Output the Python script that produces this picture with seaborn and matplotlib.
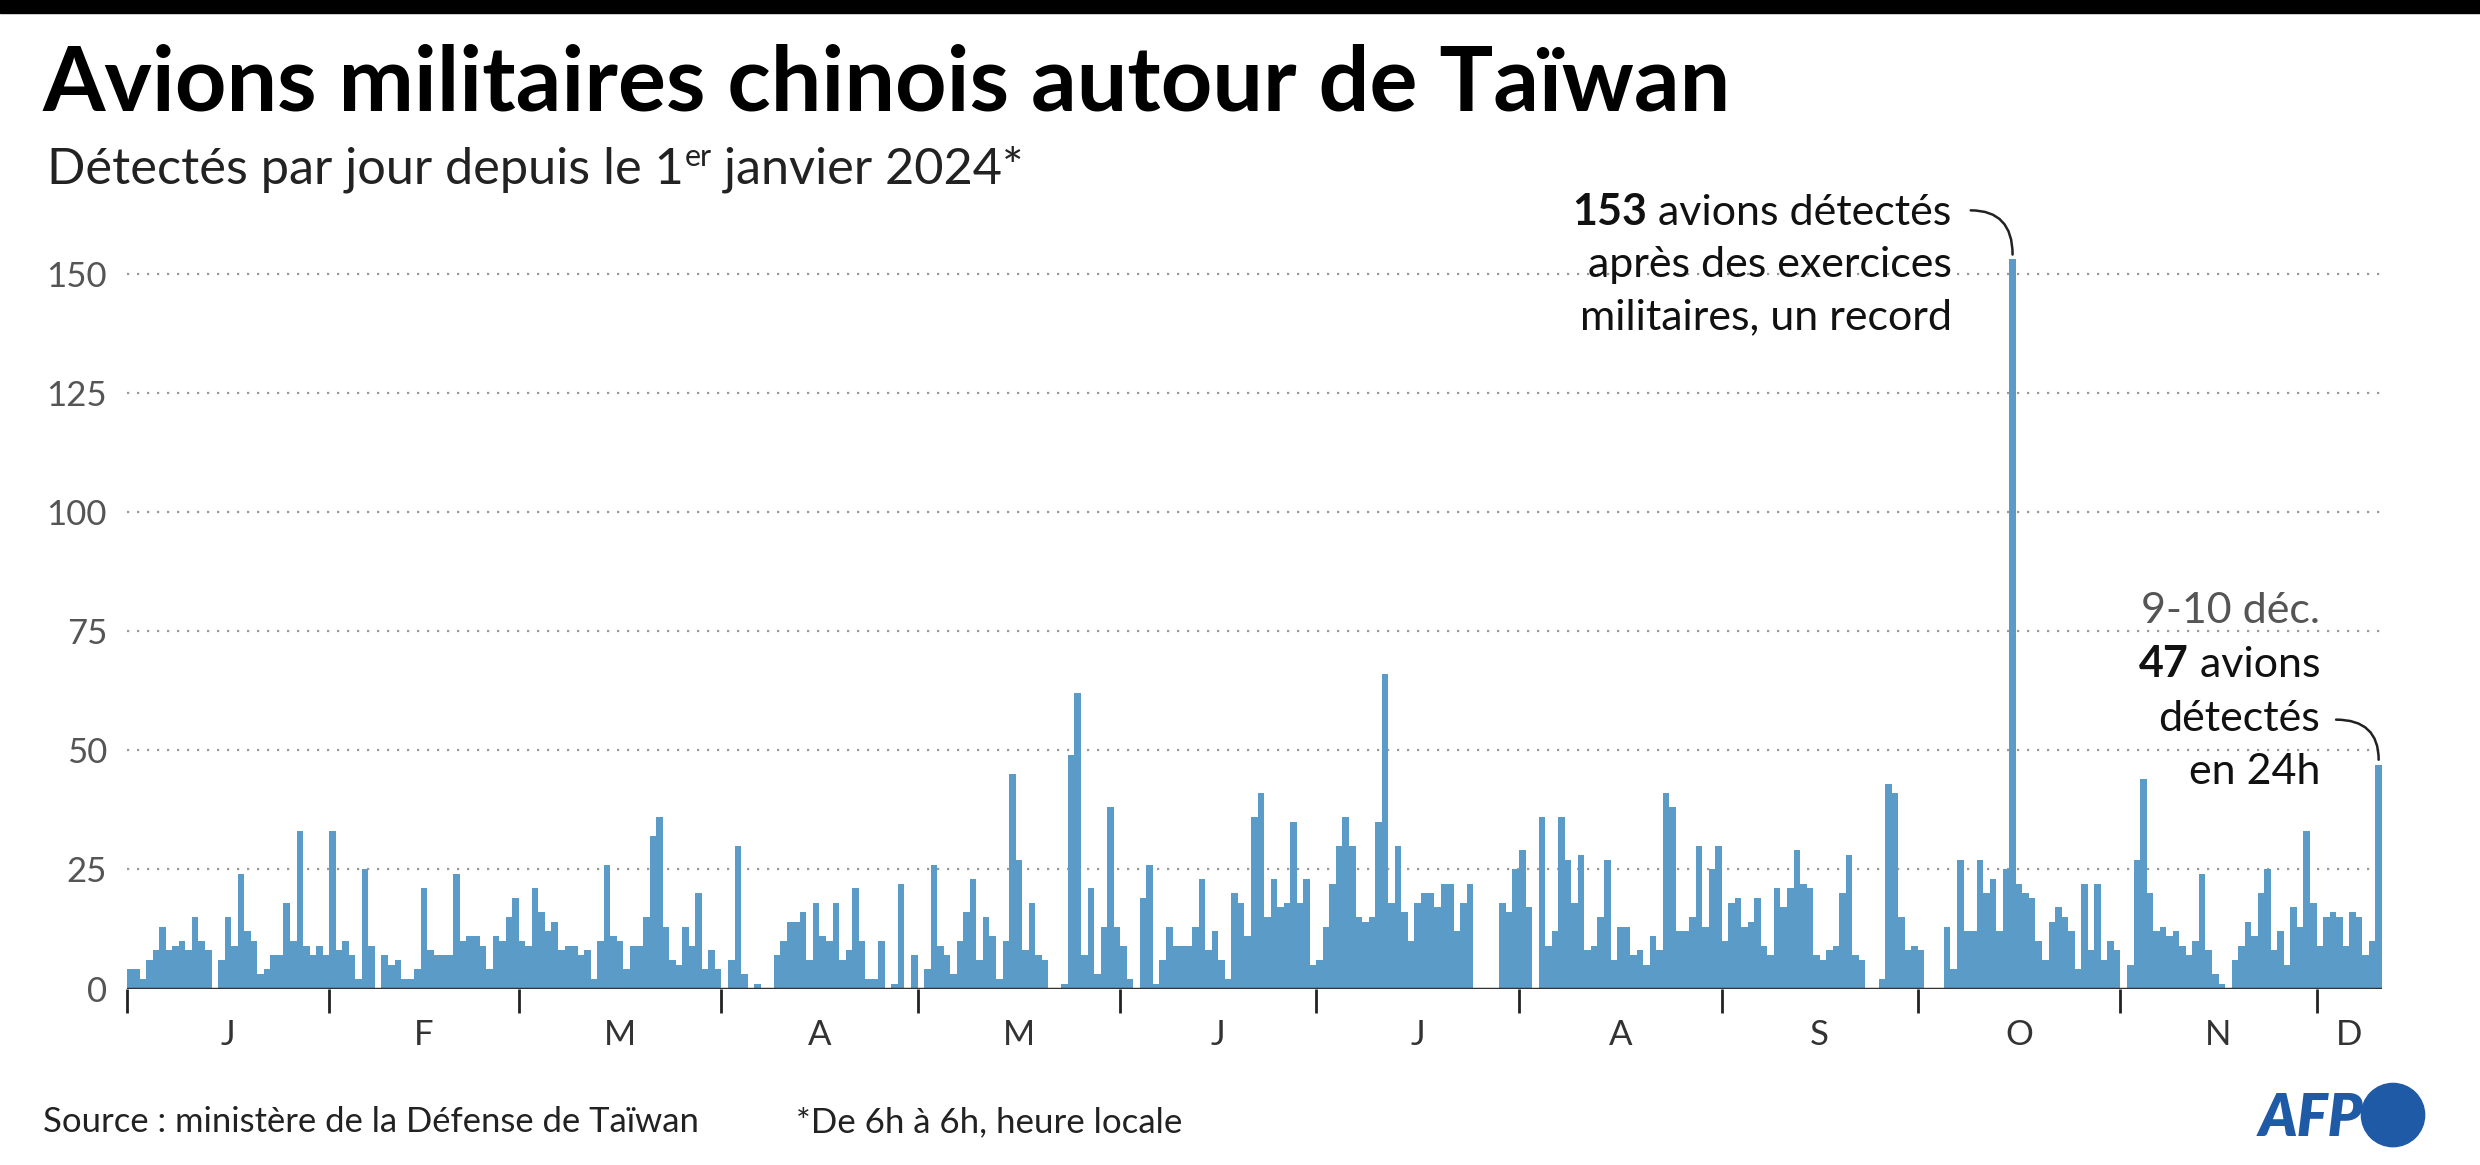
import numpy as np
import pandas as pd
import seaborn as sns
import matplotlib.pyplot as plt
from matplotlib.patches import Circle, Rectangle

# daily counts (1 Jan - 10 Dec 2024)
jan = [4, 4, 2, 6, 8, 13, 8, 9, 10, 8, 15, 10, 8, 0, 6, 15, 9, 24, 12, 10, 3, 4, 7, 7, 18, 10, 33, 9, 7, 9, 7]
feb = [33, 8, 10, 7, 2, 25, 9, 0, 7, 5, 6, 2, 2, 4, 21, 8, 7, 7, 7, 24, 10, 11, 11, 9, 4, 11, 10, 15, 19]
mar = [10, 9, 21, 16, 12, 14, 8, 9, 9, 7, 8, 2, 10, 26, 11, 10, 4, 9, 9, 15, 32, 36, 13, 6, 5, 13, 9, 20, 4, 8, 4]
apr = [0, 6, 30, 3, 0, 1, 0, 0, 7, 10, 14, 14, 16, 6, 18, 11, 10, 18, 6, 8, 21, 10, 2, 2, 10, 0, 1, 22, 0, 7]
may = [0, 4, 26, 9, 7, 3, 10, 16, 23, 6, 15, 11, 2, 10, 45, 27, 8, 18, 7, 6, 0, 0, 1, 49, 62, 7, 21, 3, 13, 38, 13]
jun = [9, 2, 0, 19, 26, 1, 6, 13, 9, 9, 9, 13, 23, 8, 12, 6, 2, 20, 18, 11, 36, 41, 15, 23, 17, 18, 35, 18, 23, 5]
jul = [6, 13, 22, 30, 36, 30, 15, 14, 15, 35, 66, 18, 30, 16, 10, 18, 20, 20, 17, 22, 22, 12, 18, 22, 0, 0, 0, 0, 18, 16, 25]
aug = [29, 17, 0, 36, 9, 12, 36, 27, 18, 28, 8, 9, 15, 27, 6, 13, 13, 7, 8, 5, 11, 8, 41, 38, 12, 12, 15, 30, 13, 25, 30]
sep = [10, 18, 19, 13, 14, 19, 9, 7, 21, 17, 21, 29, 22, 21, 7, 6, 8, 9, 20, 28, 7, 6, 0, 0, 2, 43, 41, 15, 8, 9]
oct_ = [8, 0, 0, 0, 13, 4, 27, 12, 12, 27, 20, 23, 12, 25, 153, 22, 20, 19, 10, 6, 14, 17, 15, 12, 4, 22, 8, 22, 6, 10, 8]
nov = [0, 5, 27, 44, 20, 12, 13, 11, 12, 9, 7, 10, 24, 8, 3, 1, 0, 6, 9, 14, 11, 20, 25, 8, 12, 5, 17, 13, 33, 18]
dec = [9, 15, 16, 15, 9, 16, 15, 7, 10, 47]
months = [jan, feb, mar, apr, may, jun, jul, aug, sep, oct_, nov, dec]
month_labels = ["J", "F", "M", "A", "M", "J", "J", "A", "S", "O", "N", "D"]
yticks = [0, 25, 50, 75, 100, 125, 150]

values = [v for m in months for v in m]
dates = pd.date_range("2024-01-01", periods=len(values), freq="D")
df = pd.DataFrame({"date": dates, "day": np.arange(len(values)), "n": values})
month_start = [int(df.index[(df.date.dt.month == i + 1)][0]) for i in range(12)]

W, H = 2480, 1165
S = W / 1568  # reference preview -> pixels
BLUE = "#5b9bc8"
GREY = "#555555"
FONT = "Lato"

sns.set_theme(style="white", rc={"font.family": FONT})
fig = plt.figure(figsize=(W / 100, H / 100), dpi=100)

def fx(x):
    return x * S / W

def fy(y):
    return 1 - y * S / H

ax = fig.add_axes([fx(80), fy(625), fx(1506) - fx(80), fy(625 - 160 * 452 / 150) - fy(625)])
sns.barplot(data=df, x="day", y="n", native_scale=True, width=1.0, color=BLUE,
            saturation=1, edgecolor="none", linewidth=0, ax=ax, errorbar=None)
ax.set_xlim(-0.5, len(values) - 0.5)
ax.set_ylim(0, 160)
ax.set_xlabel("")
ax.set_ylabel("")
for s in ax.spines.values():
    s.set_visible(False)
ax.set_yticks(yticks)
ax.set_yticklabels([str(t) for t in yticks], color=GREY, fontsize=25)
ax.tick_params(axis="y", length=0, pad=14)
for t in yticks[1:]:
    ax.axhline(t, color="#999999", lw=1.6, ls=(0, (1, 3.5)), zorder=0)
ax.axhline(0, color="#333333", lw=2.5, zorder=3)
ax.set_xticks([m - 0.5 for m in month_start])
ax.set_xticklabels([])
ax.tick_params(axis="x", which="major", bottom=True, length=17, width=2, color="#222222",
               direction="out", pad=0)
ends = month_start[1:] + [len(values)]
centres = [(a + b) / 2 - 0.5 for a, b in zip(month_start, ends)]
ax.set_xticks(centres, minor=True)
ax.set_xticklabels(month_labels, minor=True, color="#333333", fontsize=25)
ax.tick_params(axis="x", which="minor", bottom=True, length=0, pad=22)

fig.canvas.draw()
r = fig.canvas.get_renderer()

def fit(x, y, s, width, **kw):
    t = fig.text(fx(x), fy(y), s, fontsize=20, va="baseline", **kw)
    w = t.get_window_extent(r).width
    t.set_fontsize(20 * width * S / w)
    return t

def right_of(t, s, y, **kw):
    bb = t.get_window_extent(r)
    x = fig.transFigure.inverted().transform((bb.x1, 0))[0]
    return fig.text(x, y, s, va="baseline", **kw)

# top rule
fig.add_artist(Rectangle((0, fy(8)), 1, fy(0) - fy(8), transform=fig.transFigure, color="black"))

fit(27, 70, "Avions militaires chinois autour de Taïwan", 1066, fontweight="bold", color="black")
sub = fit(30, 116, "Détectés par jour depuis le 1", 405, color="#222222")
fs = sub.get_fontsize()
fig.canvas.draw()
sup = right_of(sub, "er", fy(105), fontsize=fs * 0.6, color="#222222")
fig.canvas.draw()
right_of(sup, " janvier 2024*", fy(116), fontsize=fs, color="#222222")

# annotations
def right_lines(x, y0, lh, lines, size):
    for i, (bold, rest, col) in enumerate(lines):
        t = fig.text(fx(x), fy(y0 + i * lh), rest, ha="right", va="baseline", fontsize=size, color=col)
        if bold:
            bb = t.get_window_extent(r)
            xl = fig.transFigure.inverted().transform((bb.x0, 0))[0]
            fig.text(xl, fy(y0 + i * lh), bold, ha="right", va="baseline", fontsize=size,
                     fontweight="bold", color=col)

asize = 31
right_lines(1234, 142, 33, [("153", " avions détectés", "#111111"),
                           (None, "après des exercices", "#111111"),
                           (None, "militaires, un record", "#111111")], asize)
right_lines(1467, 394, 34, [(None, "9-10 déc.", GREY),
                           ("47", " avions", "#111111"),
                           (None, "détectés", "#111111"),
                           (None, "en 24h", "#111111")], asize)

peak = df.loc[df.n.idxmax()]
last = df.iloc[-1]
for row, (tx, ty) in [(peak, (1246, 133)), (last, (1477, 455))]:
    ax.annotate("", xy=(row.day, row.n + 1), xycoords="data",
                xytext=(fx(tx), fy(ty)), textcoords="figure fraction",
                arrowprops=dict(arrowstyle="-", color="#222222", lw=1.8,
                                connectionstyle="angle3,angleA=0,angleB=90",
                                shrinkA=0, shrinkB=0))

# footer
fit(27, 716, "Source : ministère de la Défense de Taïwan", 416, color="#222222")
fit(503, 716, "*De 6h à 6h, heure locale", 245, color="#222222")
fit(1428, 718, "AFP", 66, color="#1f5aa6", fontweight="heavy", style="italic")
fig.add_artist(Circle((1513 * S / 100, (H - 705 * S) / 100), 20 * S / 100,
                      transform=fig.dpi_scale_trans, color="#1f5aa6"))
plt.savefig("out.png", dpi=100)
